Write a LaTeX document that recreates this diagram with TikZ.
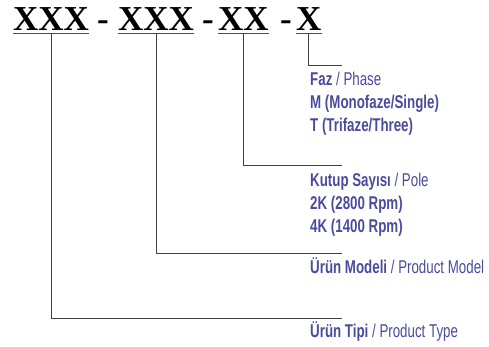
\documentclass[tikz,border=0pt]{standalone}
\usepackage{fontspec}
\setmainfont{Liberation Serif}
\newfontfamily\narrowsans[FakeStretch=0.72]{Liberation Sans}
\usepackage{xcolor}
\usetikzlibrary{positioning,calc}
\definecolor{labelblue}{HTML}{4A4B9C}

\begin{document}
\begin{tikzpicture}[x=1pt,y=-1pt,
    code/.style={inner sep=0pt,anchor=base west,font=\fontsize{35}{35}\selectfont\bfseries},
    info/.style={inner sep=0pt,anchor=base west,text=labelblue,font=\narrowsans\fontsize{18.5}{18.5}\selectfont},
    lead/.style={draw=black!75,line width=0.8pt}]
    \useasboundingbox (0,0) rectangle (489,347);
    % code groups
    \node[code] (g1) at (13,31) {XXX};
    \node[code] (d1) at (97,31) {-};
    \node[code] (g2) at (118,31) {XXX};
    \node[code] (d2) at (202,31) {-};
    \node[code] (g3) at (218,31) {XX};
    \node[code] (d3) at (280,31) {-};
    \node[code] (g4) at (296,31) {X};
    \foreach \g in {g1,g2,g3,g4}
        \draw[draw=black!70,line width=1.4pt] ($(\g.base west)+(0,2.5)$) -- ($(\g.base east)+(0,2.5)$);
    % texts
    \node[info] (faz) at (310,86) {\textbf{Faz} / Phase};
    \node[info] (mono) at (310,109) {\textbf{M (Monofaze/Single)}};
    \node[info] (tri) at (310,132) {\textbf{T (Trifaze/Three)}};
    \node[info] (pole) at (310,187) {\textbf{Kutup Sayısı} / Pole};
    \node[info] (p2k) at (310,210) {\textbf{2K (2800 Rpm)}};
    \node[info] (p4k) at (310,233) {\textbf{4K (1400 Rpm)}};
    \node[info] (model) at (310,273) {\textbf{Ürün Modeli} / Product Model};
    \node[info] (type) at (310,337) {\textbf{Ürün Tipi} / Product Type};
    % leaders
    \coordinate (e4) at (342,65);
    \coordinate (e3) at (342,165);
    \coordinate (e2) at (342,253);
    \coordinate (e1) at (342,318);
    \draw[lead] ($(g4.base)+(0,3.5)$) |- (e4);
    \draw[lead] ($(g3.base)+(0,3.5)$) |- (e3);
    \draw[lead] ($(g2.base)+(0,3.5)$) |- (e2);
    \draw[lead] ($(g1.base)+(0,3.5)$) |- (e1);
\end{tikzpicture}
\end{document}
